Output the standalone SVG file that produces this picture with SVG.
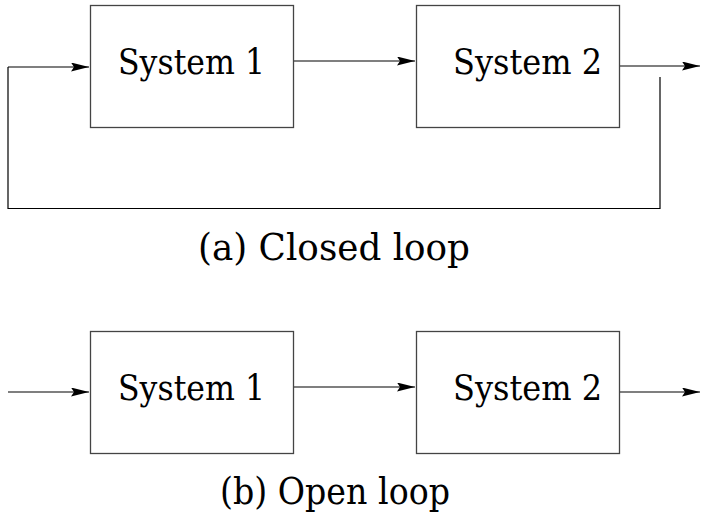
<svg xmlns="http://www.w3.org/2000/svg" width="704" height="522" viewBox="0 0 704 522">
<style>
.box{fill:#fff;stroke:#444;stroke-width:1.3}
.ln{fill:none;stroke:#000;stroke-width:1.2}
.lbl{font-size:36px;fill:#000}
.cap{font-size:37px;fill:#000;text-anchor:middle}
</style>
<defs>
<marker id="ah" markerUnits="userSpaceOnUse" markerWidth="20" markerHeight="10" refX="18" refY="4.5" orient="auto">
<path d="M0,0 L18,4.5 L0,9 L3,4.5 Z" fill="#000"/>
</marker>
</defs>
<rect width="704" height="522" fill="#fff"/>
<g id="connectors">
<line class="ln" x1="8" y1="67" x2="89" y2="67" marker-end="url(#ah)"/>
<line class="ln" x1="293" y1="61" x2="415" y2="61" marker-end="url(#ah)"/>
<line class="ln" x1="620" y1="66" x2="700" y2="66" marker-end="url(#ah)"/>
<path class="ln" d="M660,77 V208.5 H8 V67"/>
<line class="ln" x1="8" y1="392" x2="89" y2="392" marker-end="url(#ah)"/>
<line class="ln" x1="293" y1="387" x2="415" y2="387" marker-end="url(#ah)"/>
<line class="ln" x1="620" y1="392" x2="700" y2="392" marker-end="url(#ah)"/>
</g>
<g font-family="DejaVu Serif, serif">
<g id="a-system1"><rect class="box" x="90.5" y="5.5" width="203" height="122"/><text class="lbl" x="191.5" y="74" text-anchor="middle" textLength="147" lengthAdjust="spacingAndGlyphs">System 1</text></g>
<g id="a-system2"><rect class="box" x="416.5" y="5.5" width="203" height="122"/><text class="lbl" x="453" y="74" textLength="149" lengthAdjust="spacingAndGlyphs">System 2</text></g>
<g id="b-system1"><rect class="box" x="90.5" y="331.5" width="203" height="122"/><text class="lbl" x="191.5" y="400" text-anchor="middle" textLength="147" lengthAdjust="spacingAndGlyphs">System 1</text></g>
<g id="b-system2"><rect class="box" x="416.5" y="331.5" width="203" height="122"/><text class="lbl" x="453" y="400" textLength="149" lengthAdjust="spacingAndGlyphs">System 2</text></g>
<text class="cap" x="334" y="260" textLength="272" lengthAdjust="spacingAndGlyphs">(a) Closed loop</text>
<text class="cap" x="335" y="504" textLength="230" lengthAdjust="spacingAndGlyphs">(b) Open loop</text>
</g>
</svg>
